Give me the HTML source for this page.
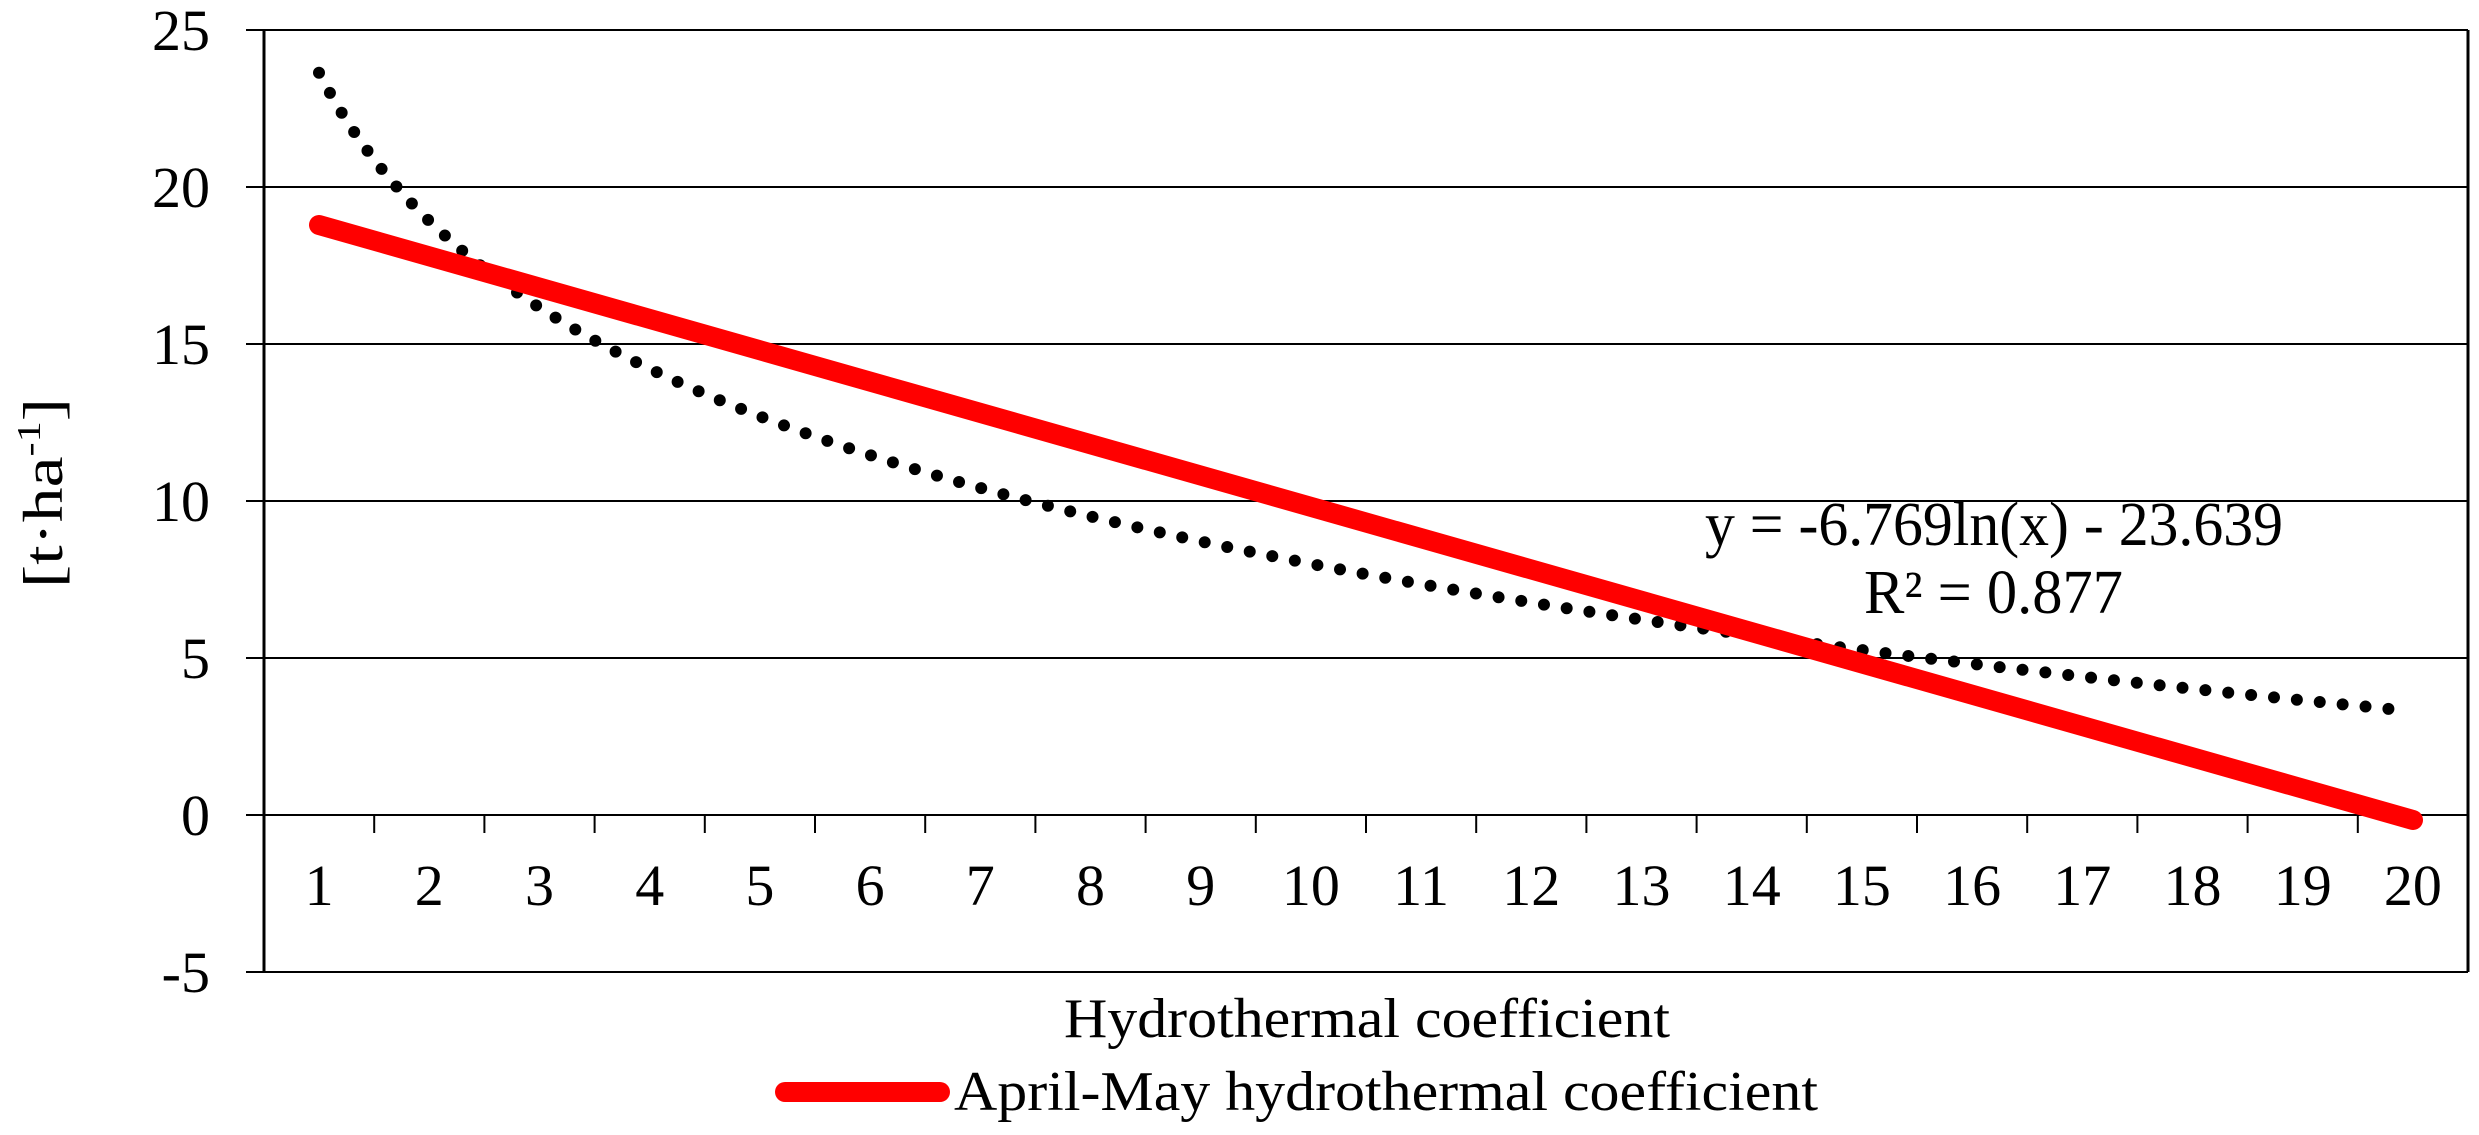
<!DOCTYPE html>
<html><head><style>html,body{margin:0;padding:0;background:#fff}svg{display:block}text{font-family:"Liberation Serif",serif;font-weight:normal}</style></head>
<body>
<svg width="2479" height="1135" xmlns="http://www.w3.org/2000/svg" fill="#000">
<g stroke="#000" stroke-width="2">
<line x1="246" y1="30" x2="2468" y2="30"/>
<line x1="246" y1="187" x2="2468" y2="187"/>
<line x1="246" y1="344" x2="2468" y2="344"/>
<line x1="246" y1="501" x2="2468" y2="501"/>
<line x1="246" y1="658" x2="2468" y2="658"/>
<line x1="246" y1="815" x2="2468" y2="815"/>
<line x1="246" y1="972" x2="2468" y2="972"/>
<line x1="264" y1="30" x2="264" y2="972" stroke-width="3"/>
<line x1="2468" y1="30" x2="2468" y2="972" stroke-width="3"/>
</g>
<g stroke="#000" stroke-width="2" id="ticks"></g>
<g font-size="58" text-anchor="end">
<text x="210" y="50">25</text><text x="210" y="207">20</text><text x="210" y="364">15</text>
<text x="210" y="521">10</text><text x="210" y="678">5</text><text x="210" y="835">0</text><text x="210" y="992">-5</text>
</g>
<g font-size="58" text-anchor="middle" id="xl"></g>
<polyline id="dots" fill="none" stroke="#000" stroke-width="12" stroke-linecap="round" stroke-dasharray="0 23"/>
<line x1="319" y1="225" x2="2413" y2="820" stroke="#f00" stroke-width="20" stroke-linecap="round"/>
<text x="1705" y="545" font-size="62" textLength="578" lengthAdjust="spacingAndGlyphs">y = -6.769ln(x) - 23.639</text>
<text x="1864" y="613" font-size="62" textLength="259" lengthAdjust="spacingAndGlyphs">R² = 0.877</text>
<text x="1064" y="1037" font-size="56" textLength="606" lengthAdjust="spacingAndGlyphs">Hydrothermal coefficient</text>
<line x1="785" y1="1092" x2="940" y2="1092" stroke="#f00" stroke-width="20" stroke-linecap="round"/>
<text x="954" y="1110" font-size="56" textLength="864" lengthAdjust="spacingAndGlyphs">April-May hydrothermal coefficient</text>
<text transform="translate(62,588) rotate(-90)" font-size="56" textLength="190" lengthAdjust="spacingAndGlyphs">[t·ha<tspan font-size="34" dy="-22">-1</tspan><tspan dy="22">]</tspan></text>
<script>
var ns="http://www.w3.org/2000/svg",w=110.2;
var t=document.getElementById('ticks'),xl=document.getElementById('xl');
for(var i=1;i<20;i++){var l=document.createElementNS(ns,'line');var x=264+w*i;l.setAttribute('x1',x);l.setAttribute('x2',x);l.setAttribute('y1',815);l.setAttribute('y2',833);t.appendChild(l);}
for(var i=1;i<=20;i++){var e=document.createElementNS(ns,'text');e.setAttribute('x',264+w*(i-0.5));e.setAttribute('y',905);e.textContent=i;xl.appendChild(e);}
var p=[];for(var k=0;k<=400;k++){var x=1+19*k/400;var v=23.639-6.769*Math.log(x);var px=319+(x-1)*(2395-319)/19;p.push(px.toFixed(1)+','+(815-v*31.4).toFixed(1));}
document.getElementById('dots').setAttribute('points',p.join(' '));
</script>
</svg>
</body></html>
